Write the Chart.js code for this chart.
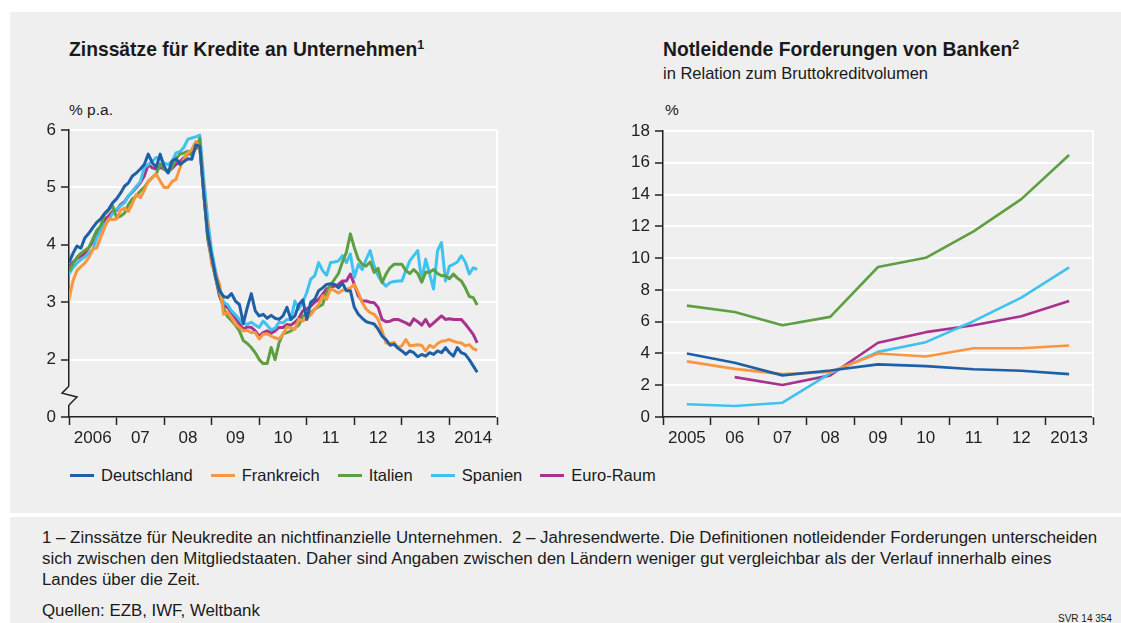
<!DOCTYPE html>
<html><head><meta charset="utf-8">
<script src="https://cdn.jsdelivr.net/npm/chart.js@4/dist/chart.umd.min.js"></script>
<style>
html,body{margin:0;padding:0;background:#fff;width:1121px;height:623px;overflow:hidden;font-family:"Liberation Sans",Arial,sans-serif;color:#1a1a1a}
#panel{position:absolute;left:10px;top:12px;width:1111px;height:501px;background:#efefef}
#foot{position:absolute;left:10px;top:517px;width:1111px;height:106px;background:#efefef}
.abs{position:absolute;white-space:nowrap}
.title{font-family:"Liberation Sans",Arial,sans-serif;font-size:19.3px;font-weight:bold}
.title sup{font-size:12.5px;vertical-align:7px;line-height:0}
.unit{font-size:15.5px}
.sub{font-size:16.5px}
.note{font-size:16.85px;line-height:21px}
#legend{position:absolute;left:70px;top:466px;display:flex;font-size:16.5px;white-space:nowrap}
#legend .it{display:flex;align-items:center;margin-right:18px}
#legend .sw{width:24px;height:3px;margin-right:7px}
canvas{position:absolute}
</style></head>
<body>
<div id="panel"></div>
<div id="foot"></div>

<div class="abs title" style="left:69px;top:39px">Zinssätze für Kredite an Unternehmen<sup>1</sup></div>
<div class="abs unit" style="left:69px;top:101px">% p.a.</div>
<div class="abs title" style="left:663px;top:39px">Notleidende Forderungen von Banken<sup>2</sup></div>
<div class="abs sub" style="left:663px;top:64px">in Relation zum Bruttokreditvolumen</div>
<div class="abs unit" style="left:665px;top:101px">%</div>

<div id="c1wrap" style="position:absolute;left:0;top:100px;width:510px;height:357px"><canvas id="c1" width="510" height="357"></canvas></div>
<div id="c2wrap" style="position:absolute;left:560px;top:100px;width:550px;height:357px"><canvas id="c2" width="550" height="357"></canvas></div>

<div id="legend"></div>

<div class="abs note" style="left:42px;top:527px">1 – Zinssätze für Neukredite an nichtfinanzielle Unternehmen.&nbsp; 2 – Jahresendwerte. Die Definitionen notleidender Forderungen unterscheiden<br>sich zwischen den Mitgliedstaaten. Daher sind Angaben zwischen den Ländern weniger gut vergleichbar als der Verlauf innerhalb eines<br>Landes über die Zeit.</div>
<div class="abs note" style="left:42px;top:600px">Quellen: EZB, IWF, Weltbank</div>
<div class="abs" style="left:1058px;top:613px;font-size:10px">SVR 14 354</div>

<script>
// ---------- Series meta ----------
const seriesNames = ['Deutschland','Frankreich','Italien','Spanien','Euro-Raum'];
const seriesColors = ['#1f5fa6','#f9963e','#5e9f42','#3fc2ef','#a9328f'];

// ---------- Left chart: monthly rates, Jan 2006 – Aug 2014 (% p.a.) ----------
const leftYearLabels = ['2006','07','08','09','10','11','12','13','2014'];
const leftYTickLabels = ['0','2','3','4','5','6'];

const rateDeutschland = [
 3.69,3.85,3.98,3.94,4.12,4.20,4.30,4.39,4.45,4.55,4.62,4.73,
 4.80,4.90,5.02,5.08,5.20,5.25,5.32,5.40,5.58,5.43,5.35,5.58,
 5.37,5.25,5.46,5.50,5.40,5.45,5.50,5.49,5.74,5.72,4.90,4.20,
 3.80,3.45,3.20,3.10,3.08,3.15,3.02,2.96,2.63,2.91,3.15,2.85,
 2.76,2.79,2.72,2.77,2.72,2.70,2.76,2.91,2.70,2.76,2.96,3.04,
 2.70,3.00,3.05,3.20,3.25,3.31,3.32,3.31,3.25,3.33,3.20,3.20,
 2.91,2.79,2.72,2.66,2.64,2.62,2.53,2.41,2.35,2.25,2.27,2.20,
 2.15,2.09,2.15,2.12,2.05,2.09,2.06,2.12,2.09,2.15,2.12,2.21,
 2.12,2.06,2.21,2.12,2.09,2.00,1.89,1.78];
const rateFrankreich = [
 3.05,3.37,3.55,3.62,3.68,3.78,3.92,3.95,4.13,4.30,4.45,4.44,
 4.45,4.60,4.64,4.58,4.72,4.88,4.82,4.95,5.11,5.17,5.23,5.11,
 5.00,5.00,5.10,5.14,5.34,5.50,5.60,5.66,5.80,5.69,4.95,4.30,
 3.66,3.49,3.31,2.79,2.82,2.73,2.62,2.56,2.50,2.51,2.47,2.47,
 2.36,2.44,2.45,2.41,2.38,2.36,2.44,2.57,2.55,2.53,2.70,2.67,
 2.72,2.78,2.88,2.96,3.11,3.05,3.23,3.20,3.16,3.21,3.22,3.25,
 3.31,3.17,2.99,2.88,2.82,2.79,2.70,2.50,2.29,2.28,2.30,2.21,
 2.24,2.35,2.24,2.25,2.26,2.25,2.15,2.25,2.21,2.28,2.32,2.33,
 2.35,2.32,2.30,2.29,2.24,2.26,2.19,2.16];
const rateItalien = [
 3.54,3.67,3.78,3.85,3.90,3.95,4.10,4.25,4.33,4.53,4.60,4.68,
 4.47,4.50,4.55,4.70,4.80,4.85,4.94,5.00,5.10,5.17,5.23,5.41,
 5.32,5.26,5.35,5.50,5.58,5.60,5.63,5.55,5.70,5.85,4.90,4.10,
 3.72,3.43,3.14,2.90,2.75,2.68,2.60,2.50,2.33,2.28,2.21,2.12,
 2.00,1.93,1.93,2.21,2.00,2.29,2.45,2.47,2.50,2.55,2.60,2.76,
 2.78,2.82,2.88,2.92,2.96,3.17,3.30,3.40,3.50,3.70,3.87,4.19,
 3.95,3.75,3.66,3.63,3.70,3.52,3.59,3.34,3.49,3.60,3.66,3.66,
 3.66,3.55,3.50,3.57,3.50,3.35,3.52,3.52,3.57,3.50,3.46,3.46,
 3.41,3.49,3.42,3.37,3.25,3.10,3.08,2.95];
const rateSpanien = [
 3.49,3.60,3.68,3.74,3.79,3.85,3.92,4.12,4.25,4.36,4.42,4.55,
 4.62,4.68,4.73,4.85,4.93,5.02,5.10,5.35,5.40,5.45,5.52,5.50,
 5.42,5.40,5.45,5.60,5.62,5.70,5.84,5.86,5.88,5.91,5.15,4.45,
 3.89,3.54,3.25,3.00,2.96,2.85,2.78,2.70,2.62,2.62,2.65,2.60,
 2.56,2.67,2.60,2.52,2.55,2.65,2.64,2.70,2.70,3.02,2.88,3.00,
 3.17,3.40,3.46,3.69,3.55,3.47,3.69,3.70,3.72,3.81,3.69,3.84,
 3.43,3.66,3.57,3.75,3.90,3.63,3.46,3.35,3.28,3.34,3.36,3.37,
 3.37,3.55,3.72,3.81,3.90,3.37,3.75,3.49,3.23,3.90,4.04,3.37,
 3.63,3.66,3.70,3.81,3.70,3.49,3.60,3.57];
const rateEuroRaum = [
 3.60,3.70,3.76,3.80,3.85,3.95,4.05,4.18,4.28,4.44,4.50,4.58,
 4.60,4.70,4.75,4.85,4.92,5.00,5.08,5.20,5.40,5.34,5.32,5.35,
 5.32,5.28,5.33,5.40,5.45,5.52,5.58,5.60,5.68,5.72,4.90,4.15,
 3.75,3.42,3.10,2.94,2.91,2.82,2.72,2.62,2.53,2.57,2.56,2.50,
 2.41,2.47,2.50,2.46,2.50,2.56,2.56,2.61,2.60,2.65,2.72,2.85,
 2.88,2.93,3.00,3.05,3.14,3.23,3.26,3.28,3.31,3.37,3.37,3.49,
 3.31,3.11,3.02,3.02,3.00,2.99,2.91,2.70,2.66,2.67,2.70,2.70,
 2.67,2.64,2.60,2.71,2.66,2.60,2.70,2.58,2.64,2.70,2.76,2.70,
 2.71,2.70,2.70,2.70,2.62,2.53,2.44,2.29];

// ---------- Right chart: non-performing loans, year-end (% of gross loans) ----------
const rightYears = ['2005','06','07','08','09','10','11','12','2013'];
const nplDeutschland = [4.0,3.41,2.62,2.93,3.31,3.20,3.01,2.91,2.70];
const nplFrankreich  = [3.5,3.03,2.70,2.83,4.00,3.81,4.33,4.33,4.50];
const nplItalien     = [7.01,6.61,5.78,6.30,9.44,10.02,11.68,13.71,16.49];
const nplSpanien     = [0.80,0.69,0.90,2.75,4.10,4.71,6.03,7.51,9.42];
const nplEuroRaum    = [null,2.51,2.01,2.62,4.67,5.34,5.78,6.34,7.30];

const leftSeries = [rateDeutschland, rateFrankreich, rateItalien, rateSpanien, rateEuroRaum];
const rightSeries = [nplDeutschland, nplFrankreich, nplItalien, nplSpanien, nplEuroRaum];

// ---------- legend (HTML) ----------
const lg = document.getElementById('legend');
seriesNames.forEach((n,i)=>{
  const it = document.createElement('div'); it.className='it';
  const sw = document.createElement('div'); sw.className='sw'; sw.style.background=seriesColors[i];
  const tx = document.createElement('span'); tx.textContent = n;
  it.appendChild(sw); it.appendChild(tx); lg.appendChild(it);
});

const AX = '#222';
const BG = '#efefef';
const tickFont = {family:'"Liberation Sans", Arial, sans-serif', size:17};

const rightBorder = {
  id:'rightBorder',
  beforeDatasetsDraw(chart){
    const {ctx, chartArea:a} = chart;
    ctx.save(); ctx.strokeStyle='#fff'; ctx.lineWidth=2;
    ctx.beginPath(); ctx.moveTo(a.right, a.top); ctx.lineTo(a.right, a.bottom); ctx.stroke();
    ctx.restore();
  }
};
const axisBreak = {
  id:'axisBreak',
  afterDraw(chart){
    const {ctx, chartArea:a} = chart;
    const ys = chart.scales.y;
    const y1 = ys.getPixelForValue(1.54), y2 = ys.getPixelForValue(1.21);
    const x = a.left;
    ctx.save();
    ctx.fillStyle = BG; ctx.fillRect(x-2, y1, 4, y2-y1);
    ctx.strokeStyle = AX; ctx.lineWidth = 1.5;
    ctx.beginPath();
    ctx.moveTo(x, y1);
    ctx.lineTo(x-7, y1+(y2-y1)*0.38);
    ctx.lineTo(x+8, y1+(y2-y1)*0.58);
    ctx.lineTo(x, y2);
    ctx.stroke();
    ctx.restore();
  }
};

new Chart(document.getElementById('c1'), {
  type:'line',
  data:{datasets: leftSeries.map((arr,i)=>({
    label: seriesNames[i],
    data: arr.map((v,m)=>({x:m, y:v})),
    borderColor: seriesColors[i], borderWidth:3, pointRadius:0, tension:0, fill:false,
    borderJoinStyle:'round'
  }))},
  options:{
    responsive:false, animation:false, devicePixelRatio:1,
    layout:{padding:{top:30,right:13,left:0,bottom:0}},
    plugins:{legend:{display:false}, tooltip:{enabled:false}},
    scales:{
      x:{type:'linear', min:0, max:108,
        afterFit:s=>{s.height=40;},
        ticks:{stepSize:6, autoSkip:false, maxRotation:0, includeBounds:true,
          callback:v => (v%12===6) ? leftYearLabels[(v-6)/12] : '',
          font:tickFont, color:AX, padding:3},
        grid:{drawOnChartArea:false, drawTicks:true, tickLength:8,
          tickColor: c => (c.tick && c.tick.value%12===0) ? AX : 'rgba(0,0,0,0)', tickWidth:1.5},
        border:{display:true, color:AX, width:1.5}},
      y:{min:1, max:6,
        afterFit:s=>{s.width=69;},
        ticks:{stepSize:1, callback:v => leftYTickLabels[v-1], font:tickFont, color:AX, padding:5},
        grid:{color: c => (c.tick && c.tick.value===1) ? 'rgba(0,0,0,0)' : '#fff', lineWidth:2, tickLength:8, tickColor:AX, tickWidth:1.5},
        border:{display:true, color:AX, width:1.5}}
    }
  },
  plugins:[rightBorder, axisBreak]
});

new Chart(document.getElementById('c2'), {
  type:'line',
  data:{labels: rightYears, datasets: rightSeries.map((arr,i)=>({
    label: seriesNames[i], data: arr,
    borderColor: seriesColors[i], borderWidth:2.6, pointRadius:0, tension:0, fill:false,
    borderJoinStyle:'round', spanGaps:false
  }))},
  options:{
    responsive:false, animation:false, devicePixelRatio:1,
    layout:{padding:{top:31,right:17,left:0,bottom:0}},
    plugins:{legend:{display:false}, tooltip:{enabled:false}},
    scales:{
      x:{type:'category', offset:true,
        afterFit:s=>{s.height=40;},
        ticks:{autoSkip:false, maxRotation:0, font:tickFont, color:AX, padding:3},
        grid:{offset:true, drawOnChartArea:false, drawTicks:true, tickLength:8, tickColor:AX, tickWidth:1.5},
        border:{display:true, color:AX, width:1.5}},
      y:{min:0, max:18,
        afterFit:s=>{s.width=103;},
        ticks:{stepSize:2, font:tickFont, color:AX, padding:5},
        grid:{color: c => (c.tick && c.tick.value===0) ? 'rgba(0,0,0,0)' : '#fff', lineWidth:2, tickLength:8, tickColor:AX, tickWidth:1.5},
        border:{display:true, color:AX, width:1.5}}
    }
  },
  plugins:[rightBorder]
});
</script>
</body></html>
